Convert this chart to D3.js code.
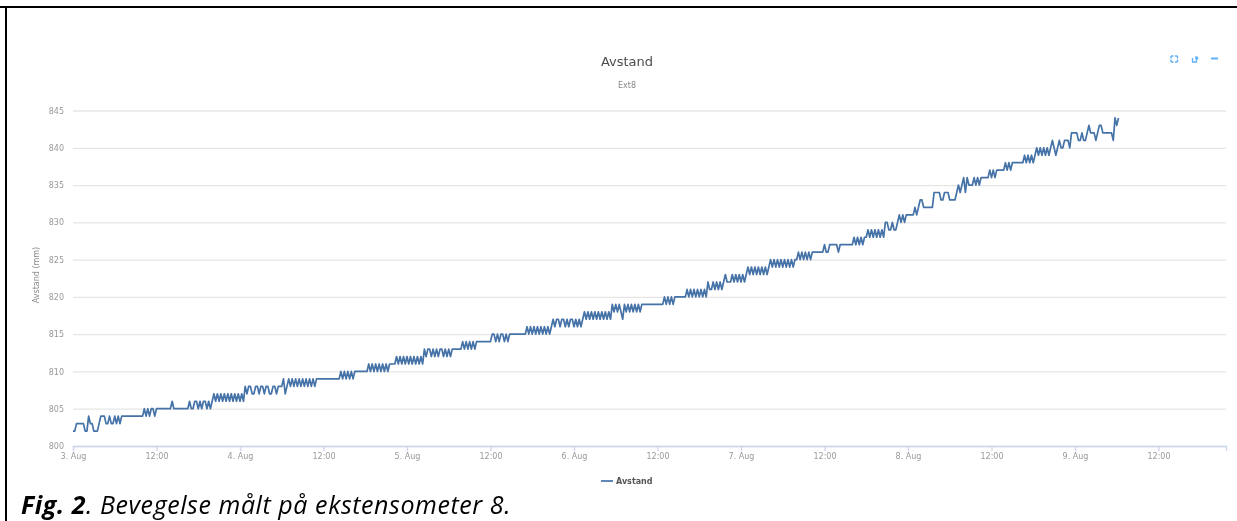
<!DOCTYPE html>
<html>
<head>
<meta charset="utf-8">
<script src="https://cdn.jsdelivr.net/npm/d3@7"></script>
<style>
    html, body { margin: 0; padding: 0; background: #fff; overflow: hidden; }
    svg { display: block; }
    text { font-family: "DejaVu Sans", sans-serif; }
    .tick text { fill: #999; font-size: 8px; }
    .yAxis .domain { display: none; }
    .caption { font-family: "Open Sans", sans-serif; font-size: 25px; font-style: italic; letter-spacing: 0.57px; fill: #000; }
</style>
</head>
<body>
<div class="chart"></div>
<script>

// Readings from the extensometer, one every 15 minutes from 3. Aug 00:00
var startTime = Date.UTC(2019, 7, 3);
var interval = 15 * 60 * 1000;
var distance = [
    802,802,803,803,803,803,803,802,802,804,803,803,802,802,802,803,804,804,804,803,
    803,804,803,803,804,803,804,803,804,804,804,804,804,804,804,804,804,804,804,804,
    804,805,804,805,804,805,805,804,805,805,805,805,805,805,805,805,805,806,805,805,
    805,805,805,805,805,805,805,806,805,805,806,806,805,806,805,806,806,805,806,805,
    806,807,806,807,806,807,806,807,806,807,806,807,806,807,806,807,806,807,806,808,
    807,808,808,807,807,808,808,807,808,808,807,808,808,807,807,808,808,807,808,808,
    808,809,807,808,809,808,809,808,809,808,809,808,809,808,809,808,809,808,809,808,
    809,809,809,809,809,809,809,809,809,809,809,809,809,809,810,809,810,809,810,809,
    810,809,810,810,810,810,810,810,810,810,811,810,811,810,811,810,811,810,811,810,
    811,810,811,811,811,811,812,811,812,811,812,811,812,811,812,811,812,811,812,811,
    812,811,813,812,813,813,812,813,812,813,812,813,813,812,813,812,813,812,813,813,
    813,813,813,813,814,813,814,813,814,813,814,813,814,814,814,814,814,814,814,814,
    814,815,815,814,815,814,815,815,814,815,814,815,815,815,815,815,815,815,815,815,
    815,816,815,816,815,816,815,816,815,816,815,816,815,816,815,816,817,816,817,817,
    816,817,817,816,817,816,817,817,816,817,816,817,816,817,818,817,818,817,818,817,
    818,817,818,817,818,817,818,817,818,817,819,818,819,818,819,818,817,819,818,819,
    818,819,818,819,818,819,818,819,819,819,819,819,819,819,819,819,819,819,819,819,
    820,819,820,819,820,819,820,820,820,820,820,820,820,821,820,821,820,821,820,821,
    820,821,820,821,820,822,821,821,822,821,822,821,822,821,822,823,822,822,822,823,
    822,823,822,823,822,823,822,823,824,823,824,823,824,823,824,823,824,823,824,823,
    824,825,824,825,824,825,824,825,824,825,824,825,824,825,824,825,825,826,825,826,
    825,826,825,826,825,826,826,826,826,826,826,826,827,826,826,827,827,827,827,827,
    826,827,827,827,827,827,827,827,827,828,827,828,827,828,827,828,828,829,828,829,
    828,829,828,829,828,829,828,830,830,829,829,830,829,829,830,831,830,831,830,831,
    831,831,831,831,832,831,832,833,833,832,832,832,832,832,832,834,834,834,834,833,
    833,834,834,834,833,833,833,833,834,835,834,835,836,834,836,835,835,835,836,835,
    836,835,836,836,836,836,836,837,836,837,836,837,837,837,837,837,838,837,838,837,
    838,838,838,838,838,838,838,839,838,839,838,839,838,839,840,839,840,839,840,839,
    840,839,840,841,840,839,840,841,840,840,841,841,841,840,842,842,842,842,841,841,
    842,841,841,842,843,842,842,842,841,842,843,843,842,842,842,842,842,842,841,844,
    843,844
];
var yTicks = [800, 805, 810, 815, 820, 825, 830, 835, 840, 845];
var months = ["Jan", "Feb", "Mar", "Apr", "May", "Jun", "Jul", "Aug", "Sep", "Oct", "Nov", "Dec"];

var width = 1237;
var height = 521;
var plot = { left: 73, right: 1226, top: 110.5, bottom: 446 };

var svg = d3.select(".chart")
    .append("svg")
        .attr("width", width)
        .attr("height", height);

// Frame of the document the chart was pasted in
svg.append("rect")
    .attr("x", 0).attr("y", 6)
    .attr("width", width).attr("height", 2)
    .style("fill", "#000");

svg.append("rect")
    .attr("x", 5).attr("y", 6)
    .attr("width", 2).attr("height", height - 6)
    .style("fill", "#000");

// The chart itself is a soft screenshot in the original
var chart = svg.append("g")
    .style("filter", "blur(0.45px)");

// Define X and Y, and their domain and range
var x = d3.scaleUtc()
    .domain([startTime, startTime + 165.7 * 3600 * 1000])
    .range([plot.left, plot.right]);

var y = d3.scaleLinear()
    .domain([800, 845])
    .range([plot.bottom, plot.top]);

// Horizontal grid with the labels on the left
var yAxis = d3.axisLeft(y)
    .tickValues(yTicks)
    .tickSize(-(plot.right - plot.left))
    .tickPadding(9);

chart.append("g")
    .attr("class", "yAxis")
    .attr("transform", "translate(" + plot.left + ",0)")
    .call(yAxis);

chart.selectAll(".yAxis .tick line")
    .style("stroke", "#e6e6e6")
    .style("stroke-width", 1.3);

// Ticks every 12 hours, dates at midnight
var xAxis = d3.axisBottom(x)
    .ticks(d3.utcHour.every(12))
    .tickSize(5)
    .tickPadding(2)
    .tickFormat(function(d) {
        if (d.getUTCHours() == 0) {
            return d.getUTCDate() + ". " + months[d.getUTCMonth()];
        }
        return "12:00";
    });

chart.append("g")
    .attr("class", "xAxis")
    .attr("transform", "translate(0," + plot.bottom + ")")
    .call(xAxis);

chart.selectAll(".xAxis .domain, .xAxis .tick line")
    .style("stroke", "#ccd6eb")
    .style("stroke-width", 1.3);

// The measured line
var line = d3.line()
    .x(function(d, i) { return x(startTime + i * interval); })
    .y(function(d) { return y(d); });

chart.append("path")
    .datum(distance)
    .attr("d", line)
    .style("fill", "none")
    .style("stroke", "#4572a7")
    .style("stroke-width", 1.7)
    .style("stroke-linejoin", "round");

// Titles
chart.append("text")
    .attr("x", 627).attr("y", 66)
    .attr("text-anchor", "middle")
    .style("font-size", "13px")
    .style("fill", "#4d4d4d")
    .text("Avstand");

chart.append("text")
    .attr("x", 627).attr("y", 88)
    .attr("text-anchor", "middle")
    .style("font-size", "8px")
    .style("fill", "#888")
    .text("Ext8");

chart.append("text")
    .attr("transform", "translate(39,275) rotate(-90)")
    .attr("text-anchor", "middle")
    .style("font-size", "8px")
    .style("fill", "#888")
    .text("Avstand (mm)");

// Legend
chart.append("line")
    .attr("x1", 601).attr("x2", 613)
    .attr("y1", 481).attr("y2", 481)
    .style("stroke", "#4572a7")
    .style("stroke-width", 1.7);

chart.append("text")
    .attr("x", 616).attr("y", 484)
    .style("font-size", "8px")
    .style("font-weight", "bold")
    .style("fill", "#555")
    .text("Avstand");

// Small buttons top right: fullscreen, popout, minimise
var icons = chart.append("g")
    .style("fill", "none")
    .style("stroke", "#62b0f5");

icons.append("path")
    .attr("d", "M1171 56h2.5M1171 56v2.5M1177.5 56h-2.5M1177.5 56v2.5M1171 62h2.5M1171 62v-2.5M1177.5 62h-2.5M1177.5 62v-2.5")
    .style("stroke-width", 1.4);

icons.append("path")
    .attr("d", "M1192.5 58v4h4v-3")
    .style("stroke-width", 1.3);

icons.append("path")
    .attr("d", "M1195 57.5h3M1196 59.5l2-2")
    .style("stroke-width", 2);

icons.append("path")
    .attr("d", "M1211 58.5H1218")
    .style("stroke-width", 2);

// Caption below the chart
var caption = svg.append("text")
    .attr("class", "caption")
    .attr("x", 21).attr("y", 514);

caption.append("tspan")
    .style("font-weight", "bold")
    .text("Fig. 2");

caption.append("tspan")
    .text(". Bevegelse målt på ekstensometer 8.");

</script>
</body>
</html>
